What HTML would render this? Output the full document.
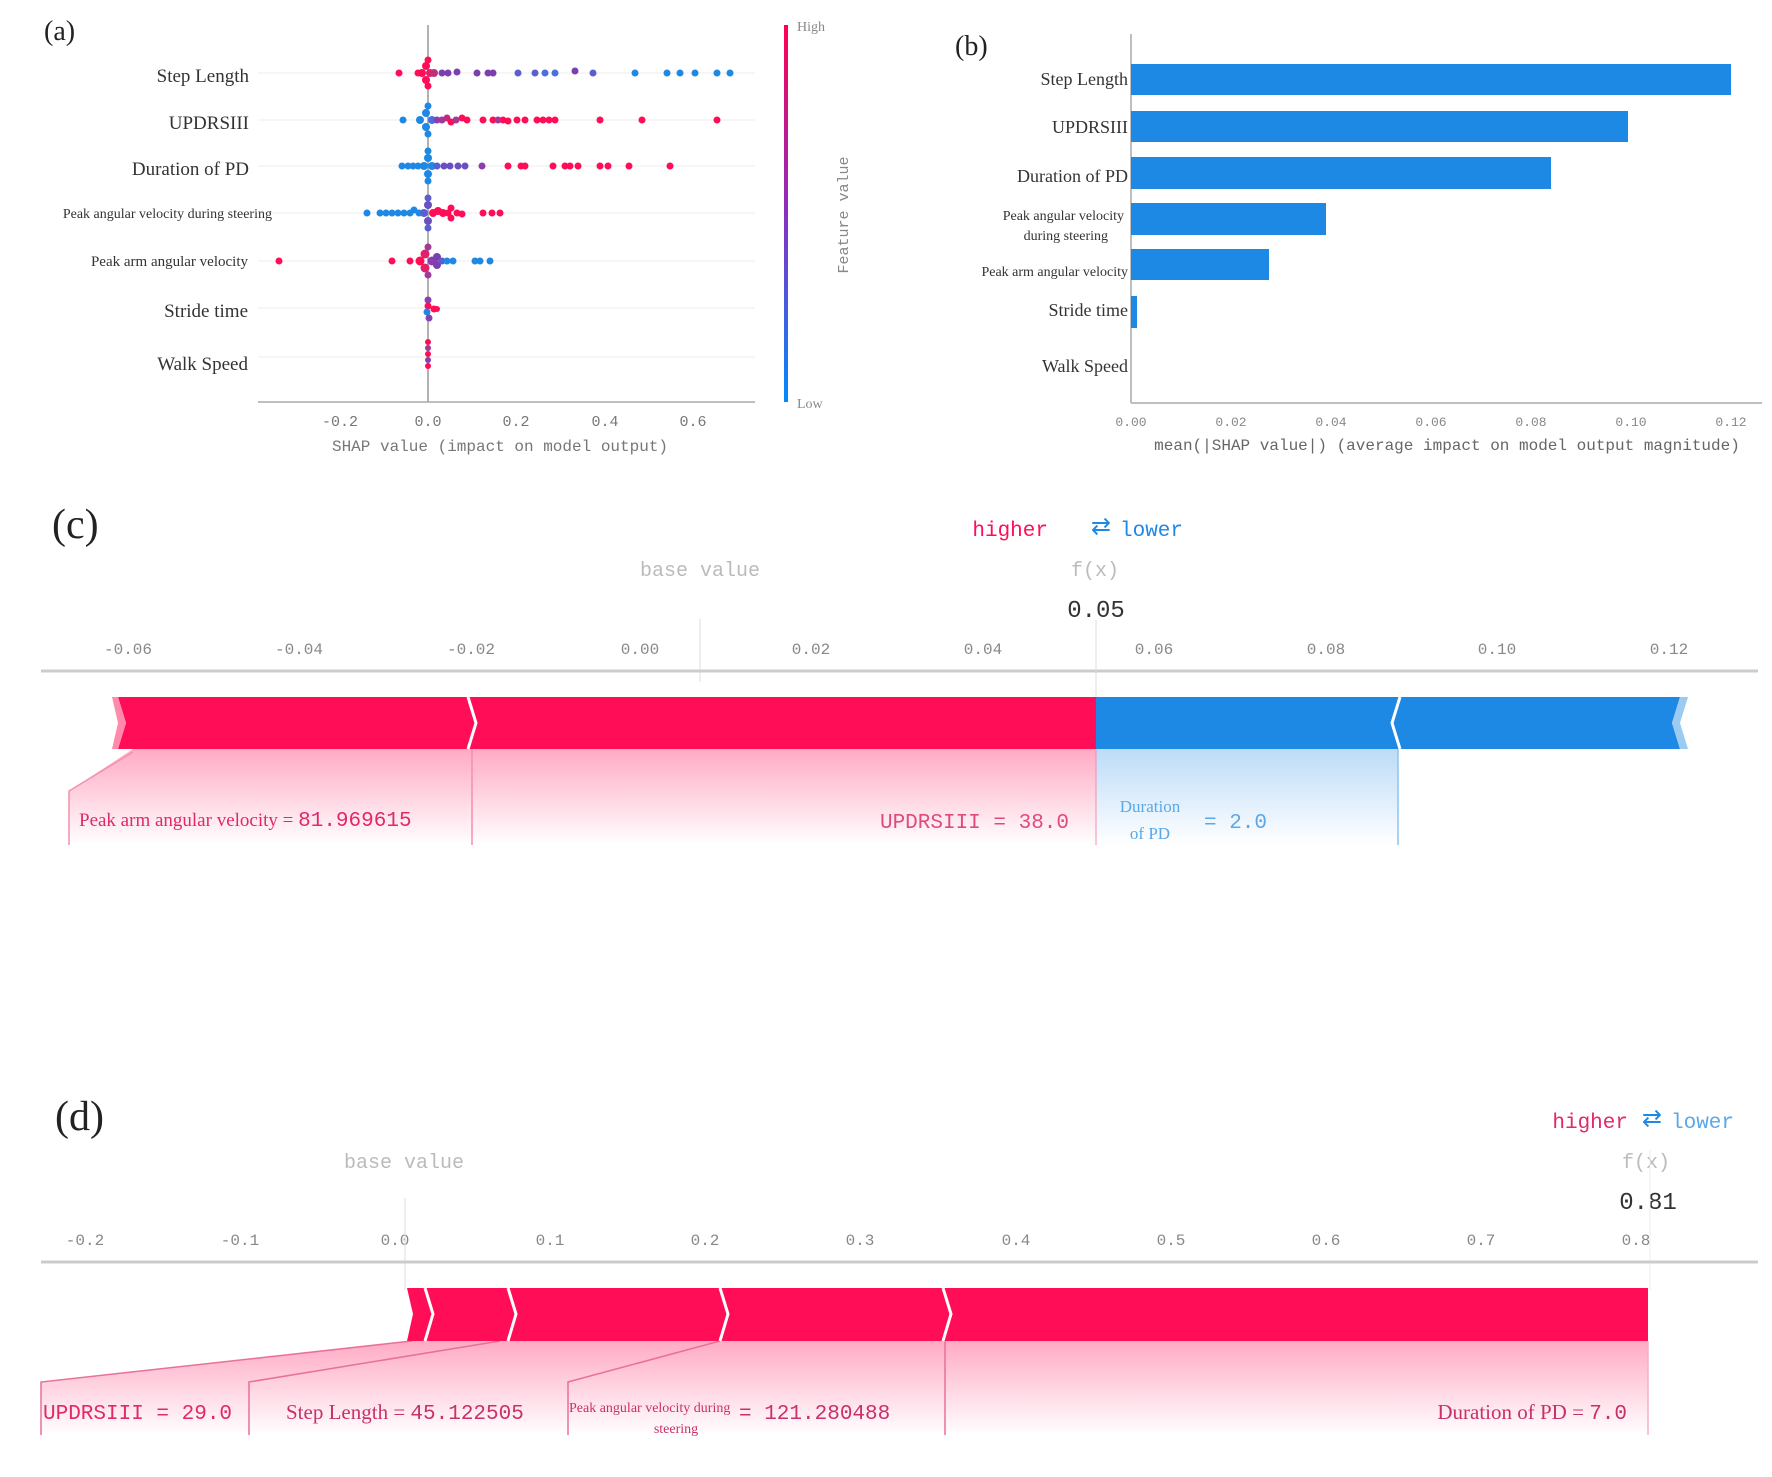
<!DOCTYPE html>
<html><head><meta charset="utf-8"><style>
html,body{margin:0;padding:0;background:#fff;}
svg{display:block;}
.ser{font-family:"Liberation Serif","Noto Serif CJK SC",serif;}
.mono{font-family:"Liberation Mono","Noto Sans CJK SC",monospace;}
</style></head><body>
<svg width="1772" height="1477" viewBox="0 0 1772 1477" xmlns="http://www.w3.org/2000/svg">
<defs>
<linearGradient id="cb" x1="0" y1="0" x2="0" y2="1">
<stop offset="0" stop-color="#ff0052"/><stop offset="0.5" stop-color="#8a2fc0"/><stop offset="1" stop-color="#008bfc"/></linearGradient>
<linearGradient id="pk" x1="0" y1="0" x2="0" y2="1">
<stop offset="0" stop-color="#ff0d57" stop-opacity="0.35"/><stop offset="1" stop-color="#ff0d57" stop-opacity="0"/></linearGradient>
<linearGradient id="bl" x1="0" y1="0" x2="0" y2="1">
<stop offset="0" stop-color="#1e88e5" stop-opacity="0.3"/><stop offset="1" stop-color="#1e88e5" stop-opacity="0"/></linearGradient>
</defs>

<!-- ================= (a) ================= -->
<text x="44" y="40" class="ser" font-size="28" fill="#222">(a)</text>
<g stroke="#eee" stroke-width="1">
<line x1="258" y1="73" x2="755" y2="73"/><line x1="258" y1="120" x2="755" y2="120"/>
<line x1="258" y1="166" x2="755" y2="166"/><line x1="258" y1="213" x2="755" y2="213"/>
<line x1="258" y1="261" x2="755" y2="261"/><line x1="258" y1="308" x2="755" y2="308"/>
<line x1="258" y1="357" x2="755" y2="357"/>
</g>
<g class="ser" font-size="19" fill="#333" text-anchor="end">
<text x="249" y="82">Step Length</text>
<text x="249" y="129">UPDRSIII</text>
<text x="249" y="175">Duration of PD</text>
<text x="272" y="218" font-size="14">Peak angular velocity during steering</text>
<text x="248" y="266" font-size="15">Peak arm angular velocity</text>
<text x="248" y="317">Stride time</text>
<text x="248" y="370">Walk Speed</text>
</g>
<line x1="428" y1="25" x2="428" y2="402" stroke="#999" stroke-width="1.5"/>
<line x1="258" y1="402" x2="755" y2="402" stroke="#aaa" stroke-width="1.5"/>
<g class="mono" font-size="15" fill="#777" text-anchor="middle">
<text x="340" y="426">-0.2</text><text x="428" y="426">0.0</text><text x="516" y="426">0.2</text>
<text x="605" y="426">0.4</text><text x="693" y="426">0.6</text>
<text x="500" y="451" font-size="16">SHAP value (impact on model output)</text>
</g>
<!-- dots -->
<g>
<!-- Step Length -->
<g fill="#7b3fb0">
<circle cx="399" cy="73" r="3.5" fill="#ff0d57"/>
<circle cx="422" cy="73" r="4" fill="#ff0d57"/><circle cx="426" cy="66" r="4" fill="#ff0d57"/><circle cx="426" cy="80" r="4" fill="#ff0d57"/>
<circle cx="430" cy="73" r="4" fill="#e0206a"/><circle cx="428" cy="60" r="3.5" fill="#ff0d57"/><circle cx="428" cy="86" r="3.5" fill="#ff0d57"/>
<circle cx="434" cy="73" r="4" fill="#c0307a"/><circle cx="418" cy="73" r="3.5" fill="#ff0d57"/>
<circle cx="442" cy="73" r="3.5"/><circle cx="448" cy="73" r="3.5"/><circle cx="457" cy="72" r="3.5"/>
<circle cx="477" cy="73" r="3.5"/><circle cx="488" cy="73" r="3.5"/><circle cx="493" cy="73" r="3.5"/>
<circle cx="518" cy="73" r="3.5" fill="#5a5fd0"/><circle cx="535" cy="73" r="3.5" fill="#5a5fd0"/><circle cx="545" cy="73" r="3.5" fill="#4a6fe0"/><circle cx="555" cy="73" r="3.5" fill="#4a6fe0"/>
<circle cx="575" cy="71" r="3.5"/><circle cx="593" cy="73" r="3.5" fill="#5a5fd0"/>
<circle cx="635" cy="73" r="3.5" fill="#1e88e5"/><circle cx="667" cy="73" r="3.5" fill="#1e88e5"/><circle cx="680" cy="73" r="3.5" fill="#1e88e5"/>
<circle cx="695" cy="73" r="3.5" fill="#1e88e5"/><circle cx="717" cy="73" r="3.5" fill="#1e88e5"/><circle cx="730" cy="73" r="3.5" fill="#1e88e5"/>
</g>
<!-- UPDRSIII -->
<g fill="#ff0d57">
<circle cx="403" cy="120" r="3.5" fill="#1e88e5"/>
<circle cx="420" cy="120" r="4" fill="#1e88e5"/><circle cx="426" cy="113" r="4" fill="#1e88e5"/><circle cx="426" cy="127" r="4" fill="#1e88e5"/>
<circle cx="428" cy="106" r="3.5" fill="#1e88e5"/><circle cx="428" cy="134" r="3.5" fill="#1e88e5"/><circle cx="432" cy="120" r="4" fill="#4a6fe0"/>
<circle cx="437" cy="120" r="3.5" fill="#8a3fb0"/><circle cx="442" cy="120" r="3.5" fill="#a03a9a"/><circle cx="447" cy="118" r="3.5" fill="#c02a80"/>
<circle cx="451" cy="122" r="3.5"/><circle cx="456" cy="120" r="3.5" fill="#a03a9a"/><circle cx="462" cy="118" r="3.5"/><circle cx="467" cy="120" r="3.5"/>
<circle cx="483" cy="120" r="3.5"/><circle cx="493" cy="120" r="3.5"/><circle cx="498" cy="120" r="3.5" fill="#a03a9a"/><circle cx="503" cy="120" r="3.5"/>
<circle cx="508" cy="121" r="3.5"/><circle cx="517" cy="120" r="3.5"/><circle cx="525" cy="120" r="3.5"/>
<circle cx="537" cy="120" r="3.5"/><circle cx="543" cy="120" r="3.5"/><circle cx="549" cy="120" r="3.5"/><circle cx="555" cy="120" r="3.5"/>
<circle cx="600" cy="120" r="3.5"/><circle cx="642" cy="120" r="3.5"/><circle cx="717" cy="120" r="3.5"/>
</g>
<!-- Duration -->
<g fill="#ff0d57">
<circle cx="402" cy="166" r="3.5" fill="#1e88e5"/><circle cx="408" cy="166" r="3.5" fill="#1e88e5"/><circle cx="413" cy="166" r="3.5" fill="#1e88e5"/><circle cx="418" cy="166" r="3.5" fill="#1e88e5"/>
<circle cx="424" cy="166" r="4" fill="#1e88e5"/><circle cx="428" cy="158" r="4" fill="#1e88e5"/><circle cx="428" cy="174" r="4" fill="#1e88e5"/>
<circle cx="428" cy="151" r="3.5" fill="#1e88e5"/><circle cx="428" cy="181" r="3.5" fill="#1e88e5"/><circle cx="432" cy="166" r="4" fill="#1e88e5"/>
<circle cx="437" cy="166" r="3.5" fill="#5a5fd0"/><circle cx="444" cy="166" r="3.5" fill="#6a4fc0"/><circle cx="450" cy="166" r="3.5" fill="#6a4fc0"/><circle cx="458" cy="166" r="3.5" fill="#6a4fc0"/><circle cx="465" cy="166" r="3.5" fill="#6a4fc0"/>
<circle cx="482" cy="166" r="3.5" fill="#8a3fb0"/><circle cx="508" cy="166" r="3.5"/><circle cx="521" cy="166" r="3.5"/><circle cx="525" cy="166" r="3.5"/>
<circle cx="553" cy="166" r="3.5"/><circle cx="565" cy="166" r="3.5"/><circle cx="570" cy="166" r="3.5"/><circle cx="578" cy="166" r="3.5"/>
<circle cx="600" cy="166" r="3.5"/><circle cx="608" cy="166" r="3.5"/><circle cx="629" cy="166" r="3.5"/><circle cx="670" cy="166" r="3.5"/>
</g>
<!-- Peak angular steering -->
<g fill="#1e88e5">
<circle cx="367" cy="213" r="3.5"/><circle cx="380" cy="213" r="3.5"/><circle cx="386" cy="213" r="3.5"/><circle cx="392" cy="213" r="3.5"/><circle cx="398" cy="213" r="3.5"/>
<circle cx="404" cy="213" r="3.5"/><circle cx="410" cy="213" r="3.5"/><circle cx="414" cy="210" r="3.5"/><circle cx="419" cy="213" r="3.5"/>
<circle cx="424" cy="213" r="4" fill="#5a5fd0"/><circle cx="428" cy="205" r="4" fill="#6a4fc0"/><circle cx="428" cy="221" r="4" fill="#6a4fc0"/><circle cx="428" cy="198" r="3.5" fill="#5a5fd0"/><circle cx="428" cy="228" r="3.5" fill="#5a5fd0"/>
<circle cx="433" cy="213" r="4" fill="#ff0d57"/><circle cx="438" cy="211" r="4" fill="#ff0d57"/><circle cx="443" cy="213" r="4" fill="#ff0d57"/><circle cx="448" cy="213" r="3.5" fill="#ff0d57"/>
<circle cx="451" cy="208" r="3.5" fill="#ff0d57"/><circle cx="451" cy="218" r="3.5" fill="#ff0d57"/><circle cx="457" cy="213" r="3.5" fill="#ff0d57"/><circle cx="462" cy="214" r="3.5" fill="#ff0d57"/>
<circle cx="483" cy="213" r="3.5" fill="#ff0d57"/><circle cx="492" cy="213" r="3.5" fill="#ff0d57"/><circle cx="500" cy="213" r="3.5" fill="#ff0d57"/>
</g>
<!-- Peak arm -->
<g fill="#1e88e5">
<circle cx="279" cy="261" r="3.5" fill="#ff0d57"/><circle cx="392" cy="261" r="3.5" fill="#ff0d57"/><circle cx="410" cy="261" r="3.5" fill="#ff0d57"/>
<circle cx="420" cy="261" r="4.5" fill="#ff0d57"/><circle cx="425" cy="254" r="4.5" fill="#e0206a"/><circle cx="425" cy="268" r="4.5" fill="#e0206a"/>
<circle cx="428" cy="247" r="3.5" fill="#a03a9a"/><circle cx="428" cy="275" r="3.5" fill="#a03a9a"/><circle cx="432" cy="261" r="4.5" fill="#8a3fb0"/>
<circle cx="437" cy="257" r="4" fill="#7b3fb0"/><circle cx="437" cy="265" r="4" fill="#7b3fb0"/><circle cx="442" cy="261" r="3.5" fill="#5a5fd0"/>
<circle cx="447" cy="261" r="3.5"/><circle cx="453" cy="261" r="3.5"/><circle cx="475" cy="261" r="3.5"/><circle cx="480" cy="261" r="3.5"/><circle cx="490" cy="261" r="3.5"/>
</g>
<!-- Stride -->
<circle cx="428" cy="300" r="3.5" fill="#8a3fb0"/><circle cx="428" cy="306" r="3.5" fill="#ff0d57"/><circle cx="427" cy="312" r="3.5" fill="#1e88e5"/>
<circle cx="429" cy="318" r="3.5" fill="#8a3fb0"/><circle cx="434" cy="309" r="3.5" fill="#ff0d57"/><circle cx="437" cy="309" r="3" fill="#ff0d57"/>
<!-- Walk -->
<circle cx="428" cy="342" r="3" fill="#ff0d57"/><circle cx="428" cy="348" r="3" fill="#a03a9a"/><circle cx="428" cy="354" r="3" fill="#ff0d57"/>
<circle cx="428" cy="360" r="3" fill="#8a3fb0"/><circle cx="428" cy="366" r="3" fill="#ff0d57"/>
</g>
<!-- colorbar -->
<rect x="784" y="25" width="4" height="377" fill="url(#cb)"/>
<text x="797" y="31" class="ser" font-size="14" fill="#888">High</text>
<text x="797" y="408" class="ser" font-size="14" fill="#888">Low</text>
<text transform="translate(848,215) rotate(-90)" class="mono" font-size="15" fill="#888" text-anchor="middle">Feature value</text>

<!-- ================= (b) ================= -->
<text x="955" y="55" class="ser" font-size="28" fill="#222">(b)</text>
<line x1="1131" y1="34" x2="1131" y2="403" stroke="#aaa" stroke-width="1.5"/>
<line x1="1131" y1="403" x2="1762" y2="403" stroke="#aaa" stroke-width="1.5"/>
<g fill="#1e88e5">
<rect x="1131" y="64" width="600" height="31"/>
<rect x="1131" y="111" width="497" height="31"/>
<rect x="1131" y="157" width="420" height="32"/>
<rect x="1131" y="203" width="195" height="32"/>
<rect x="1131" y="249" width="138" height="31"/>
<rect x="1131" y="296" width="6" height="32"/>
</g>
<g class="ser" font-size="18" fill="#333" text-anchor="end">
<text x="1128" y="85">Step Length</text>
<text x="1128" y="133">UPDRSIII</text>
<text x="1128" y="182">Duration of PD</text>
<text x="1124" y="220" font-size="14">Peak angular velocity</text>
<text x="1108" y="240" font-size="14">during steering</text>
<text x="1128" y="276" font-size="14">Peak arm angular velocity</text>
<text x="1128" y="316">Stride time</text>
<text x="1128" y="372">Walk Speed</text>
</g>
<g class="mono" font-size="13" fill="#888" text-anchor="middle">
<text x="1131" y="426">0.00</text><text x="1231" y="426">0.02</text><text x="1331" y="426">0.04</text>
<text x="1431" y="426">0.06</text><text x="1531" y="426">0.08</text><text x="1631" y="426">0.10</text><text x="1731" y="426">0.12</text>
<text x="1447" y="450" font-size="16" fill="#666">mean(|SHAP value|) (average impact on model output magnitude)</text>
</g>

<!-- ================= (c) ================= -->
<text x="52" y="538" class="ser" font-size="42" fill="#222">(c)</text>
<text x="1048" y="536" class="mono" font-size="21" fill="#ff0d57" text-anchor="end">higher</text>
<text x="1101" y="534" font-size="24" fill="#1e88e5" text-anchor="middle" font-family="DejaVu Sans,sans-serif">⇄</text>
<text x="1120" y="536" class="mono" font-size="21" fill="#1e88e5">lower</text>
<text x="700" y="576" class="mono" font-size="20" fill="#bbb" text-anchor="middle">base value</text>
<text x="1095" y="576" class="mono" font-size="20" fill="#bbb" text-anchor="middle">f(x)</text>
<text x="1096" y="617" class="mono" font-size="24" fill="#333" text-anchor="middle">0.05</text>
<g class="mono" font-size="16" fill="#888" text-anchor="middle">
<text x="128" y="654">-0.06</text><text x="299" y="654">-0.04</text><text x="471" y="654">-0.02</text>
<text x="640" y="654">0.00</text><text x="811" y="654">0.02</text><text x="983" y="654">0.04</text>
<text x="1154" y="654">0.06</text><text x="1326" y="654">0.08</text><text x="1497" y="654">0.10</text><text x="1669" y="654">0.12</text>
</g>
<line x1="700" y1="619" x2="700" y2="682" stroke="#ddd" stroke-width="1"/>
<line x1="41" y1="671" x2="1758" y2="671" stroke="#ccc" stroke-width="3"/>
<line x1="1096" y1="620" x2="1096" y2="697" stroke="#ddd" stroke-width="1"/>
<!-- shaded connectors -->
<polygon points="133,749 472,749 472,845 69,845 69,791" fill="url(#pk)"/>
<polygon points="472,749 1096,749 1096,845 472,845" fill="url(#pk)"/>
<polygon points="1096,749 1398,749 1398,845 1096,845" fill="url(#bl)"/>
<polyline points="133,752 69,791 69,845" fill="none" stroke="#f28fae" stroke-width="1.5"/>
<line x1="472" y1="749" x2="472" y2="845" stroke="#f28fae" stroke-width="1.5"/>
<line x1="1096" y1="749" x2="1096" y2="845" stroke="#f28fae" stroke-width="1"/>
<line x1="1398" y1="749" x2="1398" y2="845" stroke="#8cc4f0" stroke-width="1.5"/>
<!-- bars -->
<polygon points="118,697 1096,697 1096,749 118,749 126,723" fill="#ff0d57"/>
<polygon points="112,697 118,697 126,723 118,749 112,749 118,723" fill="#ff8aac"/>
<polyline points="468,697 476,723 468,749" fill="none" stroke="#fff" stroke-width="3"/>
<polygon points="1096,697 1680,697 1672,723 1680,749 1096,749" fill="#1e88e5"/>
<polygon points="1680,697 1688,697 1680,723 1688,749 1680,749 1672,723" fill="#9ccbf2"/>
<polyline points="1400,697 1392,723 1400,749" fill="none" stroke="#fff" stroke-width="3"/>
<!-- labels -->
<text x="79" y="826" class="ser" font-size="19" fill="#e0286a">Peak arm angular velocity = <tspan class="mono" font-size="21">81.969615</tspan></text>
<text x="1069" y="828" class="mono" font-size="21" fill="#e04a7e" text-anchor="end">UPDRSIII = 38.0</text>
<text x="1150" y="812" class="ser" font-size="17" fill="#5aa8e8" text-anchor="middle">Duration</text>
<text x="1150" y="839" class="ser" font-size="17" fill="#5aa8e8" text-anchor="middle">of PD</text>
<text x="1204" y="828" class="mono" font-size="21" fill="#5aa8e8">= 2.0</text>

<!-- ================= (d) ================= -->
<text x="55" y="1130" class="ser" font-size="42" fill="#222">(d)</text>
<text x="1628" y="1128" class="mono" font-size="21" fill="#e0286a" text-anchor="end">higher</text>
<text x="1652" y="1126" font-size="24" fill="#1e88e5" text-anchor="middle" font-family="DejaVu Sans,sans-serif">⇄</text>
<text x="1671" y="1128" class="mono" font-size="21" fill="#5aa8e8">lower</text>
<text x="404" y="1168" class="mono" font-size="20" fill="#bbb" text-anchor="middle">base value</text>
<text x="1646" y="1168" class="mono" font-size="20" fill="#bbb" text-anchor="middle">f(x)</text>
<text x="1648" y="1209" class="mono" font-size="24" fill="#333" text-anchor="middle">0.81</text>
<g class="mono" font-size="16" fill="#888" text-anchor="middle">
<text x="85" y="1245">-0.2</text><text x="240" y="1245">-0.1</text><text x="395" y="1245">0.0</text>
<text x="550" y="1245">0.1</text><text x="705" y="1245">0.2</text><text x="860" y="1245">0.3</text>
<text x="1016" y="1245">0.4</text><text x="1171" y="1245">0.5</text><text x="1326" y="1245">0.6</text>
<text x="1481" y="1245">0.7</text><text x="1636" y="1245">0.8</text>
</g>
<line x1="405" y1="1198" x2="405" y2="1290" stroke="#ddd" stroke-width="1"/>
<line x1="1650" y1="1150" x2="1650" y2="1290" stroke="#eee" stroke-width="1"/>
<line x1="41" y1="1262" x2="1758" y2="1262" stroke="#ccc" stroke-width="3"/>
<!-- shaded -->
<polygon points="412,1341 1648,1341 1648,1435 41,1435 41,1382" fill="url(#pk)"/>
<g fill="none" stroke="#e8709a" stroke-width="1.5">
<polyline points="412,1341 41,1382 41,1435"/>
<polyline points="500,1341 249,1382 249,1435"/>
<polyline points="720,1341 568,1382 568,1435"/>
<line x1="945" y1="1341" x2="945" y2="1435"/>
<line x1="1648" y1="1341" x2="1648" y2="1435" stroke="#f5b0c8"/>
</g>
<!-- bar -->
<polygon points="407,1288 1648,1288 1648,1341 407,1341 413,1314" fill="#ff0d57"/>
<g fill="none" stroke="#fff" stroke-width="3">
<polyline points="425,1288 433,1314 425,1341"/>
<polyline points="508,1288 516,1314 508,1341"/>
<polyline points="720,1288 728,1314 720,1341"/>
<polyline points="943,1288 951,1314 943,1341"/>
</g>
<!-- labels -->
<text x="43" y="1419" class="mono" font-size="21" fill="#e0286a">UPDRSIII = 29.0</text>
<text x="286" y="1419" class="ser" font-size="21" fill="#c8306a">Step Length = <tspan class="mono">45.122505</tspan></text>
<text x="569" y="1412" class="ser" font-size="14" fill="#c8306a">Peak angular velocity during</text>
<text x="676" y="1433" class="ser" font-size="14" fill="#c8306a" text-anchor="middle">steering</text>
<text x="739" y="1419" class="mono" font-size="21" fill="#c8306a">= 121.280488</text>
<text x="1627" y="1419" class="ser" font-size="21" fill="#c8306a" text-anchor="end">Duration of PD = <tspan class="mono">7.0</tspan></text>
</svg>
</body></html>
